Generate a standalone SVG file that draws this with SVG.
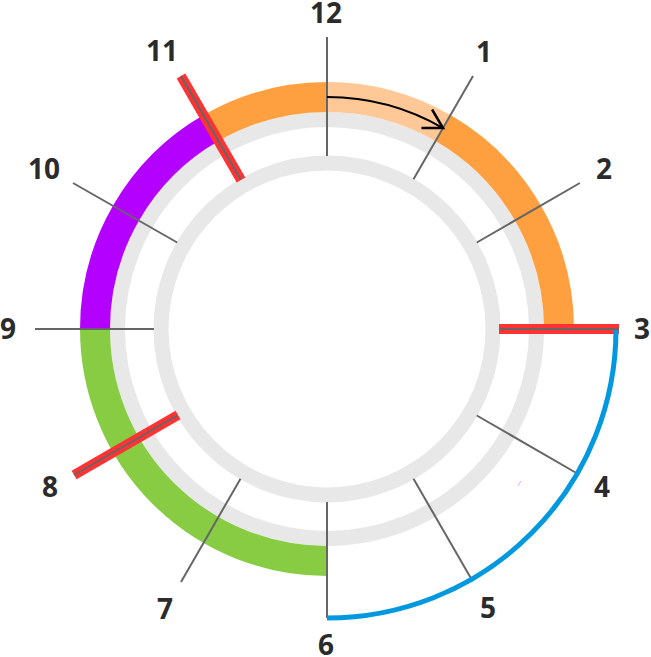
<svg xmlns="http://www.w3.org/2000/svg" width="651" height="657" viewBox="0 0 651 657">
<style>
.ring{fill:none;stroke:#e8e8e8;stroke-width:15}
.seg{fill:none;stroke-width:30}
.tick{stroke:#666;stroke-width:2;fill:none}
.red{stroke:#ff3333;stroke-width:10;fill:none}
.lbl{font-family:"Open Sans","Noto Sans",sans-serif;font-weight:700;font-size:28px;fill:#2b2b2b;text-anchor:middle}
</style>
<defs>
<marker id="ah" markerUnits="userSpaceOnUse" markerWidth="30" markerHeight="30" viewBox="-20 -12 24 24" refX="0" refY="0" orient="auto">
<path d="M-15,-8.5 L0,0 L-15,8.5" fill="none" stroke="#000" stroke-width="2"/>
</marker>
</defs>
<rect width="651" height="657" fill="#fff"/>
<g id="rings">
<circle class="ring" cx="327" cy="329" r="209.5"/>
<circle class="ring" cx="327" cy="329" r="166"/>
</g>
<g id="segments">
<path class="seg" stroke="#ffc896" d="M327,97 A232,232 0 0 1 443,128.08"/>
<path class="seg" stroke="#ffa040" d="M443,128.08 A232,232 0 0 1 559,329"/>
<path class="seg" stroke="#ffa040" d="M211,128.08 A232,232 0 0 1 327,97"/>
<path class="seg" stroke="#b400ff" d="M95,329 A232,232 0 0 1 211,128.08"/>
<path class="seg" stroke="#88cc44" d="M327,561 A232,232 0 0 1 95,329"/>
</g>
<g id="connectors">
<line class="tick" x1="327" y1="156" x2="327" y2="37"/>
<line class="tick" x1="413.5" y1="179.2" x2="473" y2="76.1"/>
<line class="tick" x1="476.8" y1="242.5" x2="579.9" y2="183"/>
<line class="tick" x1="476.8" y1="415.5" x2="575.5" y2="472.5"/>
<line class="tick" x1="413.5" y1="478.8" x2="470.5" y2="577.5"/>
<line class="tick" x1="327" y1="502" x2="327" y2="618"/>
<line class="tick" x1="240.5" y1="478.8" x2="181" y2="581.9"/>
<line class="tick" x1="177.2" y1="242.5" x2="73" y2="183"/>
<line class="tick" x1="154" y1="329" x2="35" y2="329"/>
<line class="red" x1="499" y1="329" x2="619" y2="329"/>
<line class="red" x1="178" y1="415" x2="74.1" y2="475"/>
<line class="red" x1="241" y1="180" x2="181" y2="76.1"/>
<path d="M616,329 A289,289 0 0 1 327,618" fill="none" stroke="#0099e0" stroke-width="5"/>
<line class="tick" x1="500" y1="329" x2="619" y2="329"/>
<line class="tick" x1="177.2" y1="415.5" x2="74.1" y2="475"/>
<line class="tick" x1="240.5" y1="179.2" x2="181" y2="76.1"/>
<path d="M327,97 A232,232 0 0 1 443,128.08" fill="none" stroke="#000" stroke-width="2" marker-end="url(#ah)"/>
<line x1="518" y1="486" x2="521" y2="481" stroke="#e6a8ff" stroke-width="1"/>
</g>
<g id="labels">
<text class="lbl" x="326" y="23">12</text>
<text class="lbl" x="484" y="62">1</text>
<text class="lbl" x="604" y="179">2</text>
<text class="lbl" x="642" y="339">3</text>
<text class="lbl" x="602" y="497">4</text>
<text class="lbl" x="488" y="618">5</text>
<text class="lbl" x="326" y="655">6</text>
<text class="lbl" x="165" y="619">7</text>
<text class="lbl" x="50" y="497">8</text>
<text class="lbl" x="8" y="339">9</text>
<text class="lbl" x="44" y="179">10</text>
<text class="lbl" x="162" y="61">11</text>
</g>
</svg>
